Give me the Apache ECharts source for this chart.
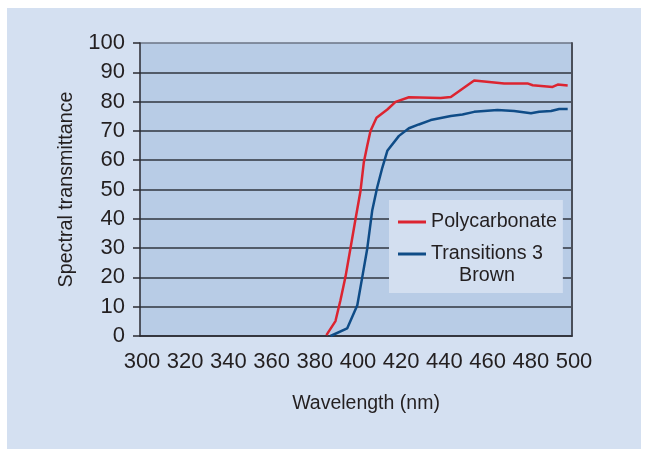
<!DOCTYPE html>
<html>
<head>
<meta charset="utf-8">
<script src="https://cdn.jsdelivr.net/npm/echarts@6/dist/echarts.min.js"></script>
<style>
  body { margin: 0; background: #ffffff; }
  #chart { width: 646px; height: 452px; }
</style>
</head>
<body>
<div id="chart"></div>
<script>
// wavelength (nm) / transmittance (%)
var polyWl   = [386.3, 390.5, 392.8, 395.1, 397.4, 399.8, 402.1, 403.6, 405.2, 406.7, 409.5, 414.5, 418.3, 424.5, 439.2, 443.9, 454.7, 468.6, 479.4, 481.8, 491.0, 493.4, 498.0];
var polyVal  = [0.3, 5.1, 12.2, 20.1, 29.8, 40.0, 49.6, 59.2, 64.9, 70.0, 74.5, 77.3, 79.9, 81.5, 81.2, 81.6, 87.2, 86.2, 86.2, 85.6, 85.0, 85.8, 85.5];
var transWl  = [388.2, 395.9, 400.6, 402.9, 405.2, 407.5, 409.8, 412.2, 414.5, 419.9, 424.5, 429.1, 434.6, 443.9, 449.3, 454.7, 465.5, 473.2, 481.0, 484.8, 490.3, 494.1, 498.0];
var transVal = [0, 2.6, 10.5, 20.1, 29.8, 42.8, 50.7, 57.5, 63.2, 68.3, 70.9, 72.2, 73.7, 75.1, 75.6, 76.5, 77.1, 76.8, 76.0, 76.5, 76.8, 77.5, 77.5];

var seriesNames = ['Polycarbonate', 'Transitions 3 Brown'];
var xMin = 300, xMax = 500, xStep = 20;
var yMin = 0, yMax = 100, yStep = 10;

function pairs(xs, ys) {
    var out = [];
    for (var i = 0; i < xs.length; i++) out.push([xs[i], ys[i]]);
    return out;
}

var font = 'Liberation Sans, Arial, sans-serif';
var ink = '#231f20';
var gridColors = [];
for (var i = 0; i < 10; i++) gridColors.push('#30363f');
gridColors.push('#6b7585');

var chart = echarts.init(document.getElementById('chart'));
chart.setOption({
    backgroundColor: '#ffffff',
    animation: false,
    graphic: [{
        type: 'rect', z: -10, silent: true,
        shape: { x: 7, y: 8, width: 634, height: 441 },
        style: { fill: '#d4e0f1' }
    }],
    grid: {
        left: 140, top: 43, right: 74, bottom: 116,
        show: true, backgroundColor: '#b8cce6', borderWidth: 0
    },
    legend: {
        left: 389, top: 200,
        orient: 'vertical',
        backgroundColor: '#d3dff0',
        padding: [11, 6, 6, 9],
        itemWidth: 28, itemHeight: 3, itemGap: -12,
        icon: 'rect',
        data: seriesNames,
        formatter: function (name) {
            if (name === 'Transitions 3 Brown') return '{a|}\n{a|Transitions 3}\n{c|Brown}';
            return '{a|' + name + '}';
        },
        textStyle: {
            fontFamily: font, fontSize: 19.7, lineHeight: 22, color: ink,
            rich: {
                a: { fontFamily: font, fontSize: 19.7, lineHeight: 22, color: ink },
                c: { fontFamily: font, fontSize: 19.7, lineHeight: 22, color: ink, align: 'center' }
            }
        }
    },
    xAxis: {
        type: 'value', min: xMin, max: xMax, interval: xStep,
        name: 'Wavelength (nm)', nameLocation: 'middle', nameGap: 58,
        nameTextStyle: { fontFamily: font, fontSize: 19.5, color: ink, padding: [0, 0, 0, 20] },
        axisLine: { show: true, lineStyle: { color: '#2a2a30', width: 1.5 } },
        axisTick: { show: false },
        axisLabel: { fontFamily: font, fontSize: 22, color: ink, margin: 15, padding: [0, 0, 0, 4] },
        splitLine: { show: false }
    },
    yAxis: [{
        type: 'value', min: yMin, max: yMax, interval: yStep,
        name: 'Spectral transmittance', nameLocation: 'middle', nameGap: 63,
        nameTextStyle: { fontFamily: font, fontSize: 19.7, color: ink },
        axisLine: { show: true, lineStyle: { color: '#2a2a30', width: 1.5 } },
        axisTick: { show: true, length: 7, lineStyle: { color: '#2a2a30', width: 1.5 } },
        axisLabel: { fontFamily: font, fontSize: 22, color: ink, margin: 15, padding: [4, 0, 0, 0] },
        splitLine: { show: true, lineStyle: { color: gridColors, width: 1.5 } }
    }, {
        type: 'value', min: yMin, max: yMax, interval: yStep, position: 'right',
        axisLine: { show: true, lineStyle: { color: '#4a4f5a', width: 2 } },
        axisTick: { show: false }, axisLabel: { show: false }, splitLine: { show: false }
    }],
    series: [{
        name: seriesNames[0], type: 'line', showSymbol: false, symbol: 'none',
        data: pairs(polyWl, polyVal),
        itemStyle: { color: '#dc2430' },
        lineStyle: { color: '#dc2430', width: 2.5 }
    }, {
        name: seriesNames[1], type: 'line', showSymbol: false, symbol: 'none',
        data: pairs(transWl, transVal),
        itemStyle: { color: '#0f4c87' },
        lineStyle: { color: '#0f4c87', width: 2.5 }
    }]
});
</script>
</body>
</html>
